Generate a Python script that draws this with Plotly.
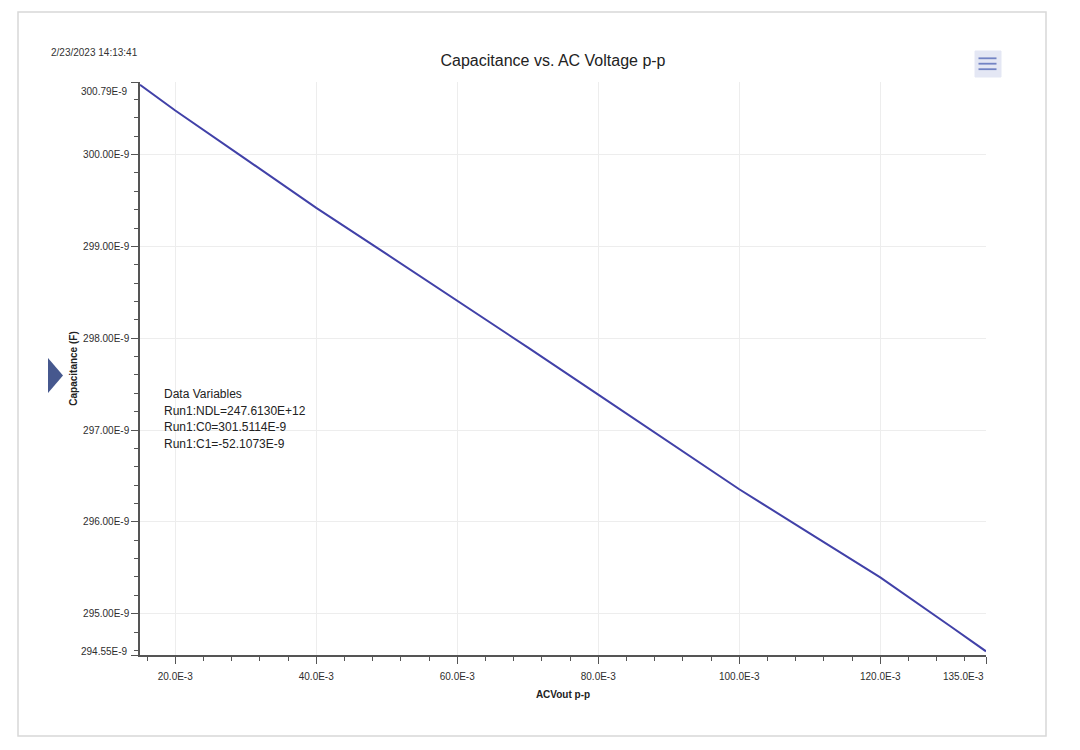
import plotly.graph_objects as go

# values
acv_pp = [15.0e-3, 20.0e-3, 30.0e-3, 40.0e-3, 50.0e-3, 60.0e-3, 70.0e-3,
          80.0e-3, 90.0e-3, 100.0e-3, 110.0e-3, 120.0e-3, 130.0e-3, 135.0e-3]
capacitance = [300.76e-9, 300.48e-9, 299.95e-9, 299.42e-9, 298.915e-9, 298.41e-9,
               297.90e-9, 297.385e-9, 296.87e-9, 296.355e-9, 295.875e-9, 295.395e-9,
               294.86e-9, 294.59e-9]

x_tickvals = [20e-3, 40e-3, 60e-3, 80e-3, 100e-3, 120e-3, 135e-3]
x_ticktext = ["20.0E-3", "40.0E-3", "60.0E-3", "80.0E-3", "100.0E-3", "120.0E-3", "135.0E-3"]
y_tickvals = [294.55e-9, 295e-9, 296e-9, 297e-9, 298e-9, 299e-9, 300e-9, 300.79e-9]
y_ticktext = ["294.55E-9", "295.00E-9", "296.00E-9", "297.00E-9", "298.00E-9",
              "299.00E-9", "300.00E-9", "300.79E-9"]

data_vars = ["Data Variables", "Run1:NDL=247.6130E+12", "Run1:C0=301.5114E-9", "Run1:C1=-52.1073E-9"]

# the page adds an 8px body margin, so the figure is a bit smaller than the window
OFF = 8
W, H = 1080 - 2 * OFF, 750 - 2 * OFF
# plot area in screen pixels
L, R, T, B = 140, 986, 82, 655


def px(x):
    return (x - L) / (R - L)


def py(y):
    return (B - y) / (B - T)


FONT = "Liberation Sans, Arial, sans-serif"
TICKFONT = dict(family=FONT, size=10, color="#2E2E2E")

# range-end labels sit inside the range, not centred on their tick
x_text = x_ticktext[:-1] + [""]
y_text = [""] + y_ticktext[1:-1] + [""]

fig = go.Figure()
fig.add_trace(go.Scatter(
    x=acv_pp, y=capacitance, mode="lines",
    line=dict(color="#4141A8", width=2),
    showlegend=False, hoverinfo="x+y"
))

axis_common = dict(
    showgrid=True, gridcolor="#EDEDED", gridwidth=1,
    zeroline=False, showline=True, linecolor="#555555", linewidth=1.5,
    ticks="outside", ticklen=7, tickcolor="#555555", tickwidth=1,
    tickfont=TICKFONT,
    tickmode="array",
)

fig.update_layout(
    width=W, height=H,
    margin=dict(l=L - OFF, r=W - (R - OFF), t=T - OFF, b=H - (B - OFF)),
    paper_bgcolor="white", plot_bgcolor="white",
    font=dict(family=FONT, color="#222222"),
    title=dict(text="Capacitance vs. AC Voltage p-p", x=px(553), xref="paper",
               y=1 - (60 - OFF) / H, yanchor="middle", xanchor="center",
               font=dict(family=FONT, size=16, color="#222222")),
    xaxis=dict(axis_common, range=[15.0e-3, 135e-3],
               tickvals=x_tickvals, ticktext=x_text, ticklabelstandoff=4,
               minor=dict(tickmode="linear", tick0=0, dtick=4e-3, ticks="outside",
                          ticklen=4, tickcolor="#555555", showgrid=False),
               title=dict(text="<b>ACVout p-p</b>", standoff=10,
                          font=dict(family=FONT, size=10, color="#222222"))),
    yaxis=dict(axis_common, range=[294.55e-9, 300.79e-9],
               tickvals=y_tickvals, ticktext=y_text,
               minor=dict(tickmode="linear", tick0=0, dtick=0.2e-9, ticks="outside",
                          ticklen=4, tickcolor="#555555", showgrid=False),
               title=dict(text="<b>Capacitance (F)</b>", standoff=4,
                          font=dict(family=FONT, size=10, color="#222222"))),
)

# end-of-range tick labels
fig.add_annotation(text=x_ticktext[-1], xref="x", yref="paper", x=x_tickvals[-1], y=0,
                   xanchor="right", yanchor="middle", yshift=-21, showarrow=False, font=TICKFONT)
fig.add_annotation(text=y_ticktext[-1], xref="paper", yref="y", x=0, y=y_tickvals[-1],
                   xanchor="right", yanchor="middle", xshift=-10, yshift=-9, showarrow=False, font=TICKFONT)
fig.add_annotation(text=y_ticktext[0], xref="paper", yref="y", x=0, y=y_tickvals[0],
                   xanchor="right", yanchor="middle", xshift=-10, yshift=4, showarrow=False, font=TICKFONT)

# timestamp
fig.add_annotation(text="2/23/2023 14:13:41", xref="paper", yref="paper",
                   x=px(49), y=py(52), xanchor="left", yanchor="middle", showarrow=False,
                   font=dict(family="Liberation Sans Narrow, " + FONT, size=10, color="#333333"))

# data variables block, one line each
for line_text, yc in zip(data_vars, (394, 410.5, 427, 443.5)):
    fig.add_annotation(text=line_text, xref="paper", yref="paper",
                       x=px(162), y=py(yc), xanchor="left", yanchor="middle", align="left",
                       showarrow=False,
                       font=dict(family=FONT, size=12, color="#222222"))

# outer frame
fig.add_shape(type="rect", xref="paper", yref="paper",
              x0=px(18), x1=px(1046), y0=py(12), y1=py(736),
              line=dict(color="#D8D8D8", width=1.5), fillcolor="rgba(0,0,0,0)", layer="below")

# menu button
fig.add_shape(type="rect", xref="paper", yref="paper",
              x0=px(975), x1=px(1001), y0=py(77), y1=py(51),
              line=dict(color="#E4E7F4", width=1), fillcolor="#E4E7F4")
for yy in (58.3, 63.7, 69.2):
    fig.add_shape(type="line", xref="paper", yref="paper",
                  x0=px(978.5), x1=px(996.5), y0=py(yy), y1=py(yy),
                  line=dict(color="#7384C4", width=1.8))

# side arrow
fig.add_shape(type="path", xref="paper", yref="paper",
              path="M {} {} L {} {} L {} {} Z".format(px(48), py(358), px(48), py(393), px(63), py(375.5)),
              line=dict(width=0), fillcolor="#46588E")

fig.write_html("out.html")
